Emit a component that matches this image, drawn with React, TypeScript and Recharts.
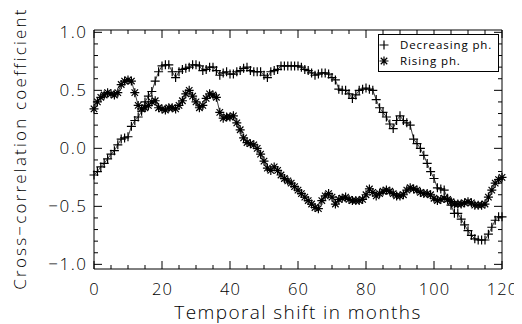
import { Legend, Line, LineChart, XAxis, YAxis } from "recharts";

// months 0..120
const months: number[] = Array.from({ length: 121 }, (_, i) => i);

const decreasingPh: number[] = [
  -0.23, -0.2, -0.16, -0.13, -0.09, -0.05, -0.02, 0.03, 0.08, 0.09,
  0.1, 0.19, 0.24, 0.27, 0.32, 0.4, 0.45, 0.49, 0.58, 0.66,
  0.71, 0.72, 0.72, 0.66, 0.61, 0.66, 0.68, 0.69, 0.7, 0.72,
  0.72, 0.71, 0.67, 0.68, 0.7, 0.7, 0.67, 0.63, 0.65, 0.66,
  0.64, 0.64, 0.66, 0.67, 0.69, 0.7, 0.67, 0.66, 0.66, 0.66,
  0.63, 0.61, 0.66, 0.67, 0.68, 0.71, 0.71, 0.71, 0.71, 0.71,
  0.71, 0.7, 0.68, 0.67, 0.65, 0.63, 0.64, 0.65, 0.65, 0.64,
  0.61, 0.59, 0.51, 0.5, 0.5, 0.47, 0.43, 0.46, 0.5, 0.51,
  0.52, 0.51, 0.5, 0.42, 0.35, 0.31, 0.27, 0.21, 0.17, 0.24,
  0.28, 0.24, 0.22, 0.2, 0.08, 0.04, 0.0, -0.06, -0.13, -0.2,
  -0.26, -0.34, -0.35, -0.36, -0.43, -0.49, -0.56, -0.56, -0.61, -0.66,
  -0.71, -0.75, -0.78, -0.79, -0.79, -0.79, -0.74, -0.68, -0.62, -0.59,
  -0.59,
];

const risingPh: number[] = [
  0.34, 0.4, 0.44, 0.46, 0.48, 0.47, 0.46, 0.48, 0.55, 0.58,
  0.59, 0.58, 0.48, 0.37, 0.34, 0.35, 0.37, 0.4, 0.41, 0.35,
  0.34, 0.33, 0.35, 0.35, 0.34, 0.37, 0.41, 0.47, 0.5, 0.45,
  0.4, 0.35, 0.37, 0.43, 0.47, 0.46, 0.44, 0.31, 0.26, 0.27,
  0.27, 0.28, 0.22, 0.16, 0.09, 0.05, 0.04, 0.03, 0.0, -0.05,
  -0.11, -0.17, -0.19, -0.16, -0.19, -0.23, -0.26, -0.28, -0.3, -0.33,
  -0.36, -0.39, -0.42, -0.45, -0.48, -0.51, -0.52, -0.45, -0.41, -0.39,
  -0.42, -0.48, -0.44, -0.43, -0.42, -0.44, -0.45, -0.45, -0.45, -0.44,
  -0.4, -0.35, -0.38, -0.41, -0.39, -0.37, -0.36, -0.37, -0.39, -0.41,
  -0.41, -0.4, -0.36, -0.34, -0.35, -0.36, -0.38, -0.39, -0.39, -0.4,
  -0.43, -0.45, -0.44, -0.43, -0.44, -0.46, -0.48, -0.48, -0.48, -0.47,
  -0.46, -0.47, -0.49, -0.49, -0.49, -0.48, -0.42, -0.36, -0.3, -0.27,
  -0.25,
];

const xTicks: number[] = [
  0, 5, 10, 15, 20, 25, 30, 35, 40, 45, 50, 55, 60,
  65, 70, 75, 80, 85, 90, 95, 100, 105, 110, 115, 120,
];
const yTicks: number[] = [
  -1.0, -0.9, -0.8, -0.7, -0.6, -0.5, -0.4, -0.3, -0.2, -0.1, 0.0,
  0.1, 0.2, 0.3, 0.4, 0.5, 0.6, 0.7, 0.8, 0.9, 1.0,
];

const data = months.map((m, i) => ({ month: m, dec: decreasingPh[i], ris: risingPh[i] }));

const FONT = "'Open Sans', sans-serif";

const isMajorX = (v: number) => v % 20 === 0;
const isMajorY = (v: number) => Math.round(v * 10) % 5 === 0;
const fmtY = (v: number) => (v < 0 ? "\u2212" + Math.abs(v).toFixed(1) : v.toFixed(1));

const BottomTick = ({ x, y, payload }: any) => {
  const v = payload.value;
  const major = isMajorX(v);
  return (
    <g>
      <line x1={x} x2={x} y1={y} y2={y - (major ? 8 : 4)} stroke="#000" />
      {major && (
        <text x={x + 0.5} y={y + 26} textAnchor="middle" fontSize={16.5} letterSpacing={1} fontFamily={FONT} fontWeight={300} fill="#000">
          {v}
        </text>
      )}
    </g>
  );
};

const TopTick = ({ x, y, payload }: any) => {
  const major = isMajorX(payload.value);
  return <line x1={x} x2={x} y1={y} y2={y + (major ? 8 : 4)} stroke="#000" />;
};

const LeftTick = ({ x, y, payload }: any) => {
  const v = payload.value;
  const major = isMajorY(v);
  return (
    <g>
      <line x1={x} x2={x + (major ? 8 : 4)} y1={y} y2={y} stroke="#000" />
      {major && (
        <text x={x - 6.5} y={y} dy="0.36em" textAnchor="end" fontSize={17} letterSpacing={1.5} fontFamily={FONT} fontWeight={300} fill="#000">
          {fmtY(v)}
        </text>
      )}
    </g>
  );
};

const RightTick = ({ x, y, payload }: any) => {
  const major = isMajorY(payload.value);
  return <line x1={x} x2={x - (major ? 8 : 4)} y1={y} y2={y} stroke="#000" />;
};

const PlusDot = (p: any) => {
  const { cx, cy, index } = p;
  if (cx == null || cy == null) return <g key={"p" + index} />;
  const s = 4.5;
  return (
    <path
      key={"p" + index}
      d={`M${cx - s},${cy}H${cx + s}M${cx},${cy - s}V${cy + s}`}
      stroke="#000"
      strokeWidth={1.2}
      fill="none"
    />
  );
};

const StarDot = (p: any) => {
  const { cx, cy, index } = p;
  if (cx == null || cy == null) return <g key={"s" + index} />;
  const s = 4.5;
  const d = s * 0.72;
  return (
    <path
      key={"s" + index}
      d={`M${cx - s},${cy}H${cx + s}M${cx},${cy - s}V${cy + s}M${cx - d},${cy - d}L${cx + d},${cy + d}M${cx - d},${cy + d}L${cx + d},${cy - d}`}
      stroke="#000"
      strokeWidth={1.2}
      fill="none"
    />
  );
};

const legendItems = [
  { label: "Decreasing ph.", Dot: PlusDot },
  { label: "Rising ph.", Dot: StarDot },
];

const LegendBox = () => (
  <div
    style={{
      border: "1px solid #000",
      background: "#fff",
      width: 121,
      height: 38,
      boxSizing: "border-box",
      fontFamily: FONT,
      fontSize: 11.5,
      letterSpacing: 0.9,
      lineHeight: "16px",
      padding: "2px 0 0 0",
      color: "#000",
    }}
  >
    {legendItems.map(({ label, Dot }) => (
      <div key={label} style={{ display: "flex", alignItems: "center", height: 16 }}>
        <svg width={21} height={16}>
          <Dot cx={5} cy={8} index={0} />
        </svg>
        <span>{label}</span>
      </div>
    ))}
  </div>
);

export default function App() {
  return (
    <LineChart width={514} height={316} data={data} margin={{ top: 21, right: 19, bottom: 0, left: 0 }}>
      <XAxis
        dataKey="month"
        type="number"
        domain={[0, 120]}
        ticks={xTicks}
        interval={0}
        tickSize={0}
        tickMargin={0}
        tickLine={false}
        tick={<BottomTick />}
        height={55}
        axisLine={{ stroke: "#000" }}
        label={{
          content: ({ viewBox }: any) => (
            <text
              x={viewBox.x + viewBox.width / 2}
              y={viewBox.y + 50}
              textAnchor="middle"
              fontSize={19}
              letterSpacing={1.4}
              fontFamily={FONT}
              fontWeight={300}
              fill="#000"
            >
              Temporal shift in months
            </text>
          ),
        }}
      />
      <XAxis
        xAxisId="top"
        orientation="top"
        type="number"
        dataKey="month"
        domain={[0, 120]}
        ticks={xTicks}
        interval={0}
        tickSize={0}
        tickMargin={0}
        tickLine={false}
        tick={<TopTick />}
        height={1}
        axisLine={{ stroke: "#000" }}
      />
      <YAxis
        type="number"
        domain={[-1.04, 1.02]}
        ticks={yTicks}
        interval={0}
        tickSize={0}
        tickMargin={0}
        tickLine={false}
        tick={<LeftTick />}
        width={86}
        allowDataOverflow
        axisLine={{ stroke: "#000" }}
        label={{
          content: ({ viewBox }: any) => {
            const cx = viewBox.x + 18;
            const cy = viewBox.y + viewBox.height / 2 - 1;
            return (
              <text
                x={cx}
                y={cy}
                transform={`rotate(-90 ${cx} ${cy})`}
                textAnchor="middle"
                fontSize={17}
                letterSpacing={2.2}
                fontFamily={FONT}
                fontWeight={300}
                fill="#000"
              >
                Cross{"\u2212"}correlation coefficient
              </text>
            );
          },
        }}
      />
      <YAxis
        yAxisId="right"
        orientation="right"
        type="number"
        domain={[-1.04, 1.02]}
        ticks={yTicks}
        interval={0}
        tickSize={0}
        tickMargin={0}
        tickLine={false}
        tick={<RightTick />}
        width={1}
        allowDataOverflow
        axisLine={{ stroke: "#000" }}
      />
      <Legend
        layout="vertical"
        align="center"
        verticalAlign="middle"
        content={<LegendBox />}
        wrapperStyle={{ top: 26, left: 370, width: 122 }}
      />
      <Line
        dataKey="dec"
        name="Decreasing ph."
        stroke="#444"
        strokeWidth={1}
        dot={PlusDot}
        activeDot={false}
        isAnimationActive={false}
      />
      <Line
        dataKey="ris"
        name="Rising ph."
        stroke="#444"
        strokeWidth={1}
        dot={StarDot}
        activeDot={false}
        isAnimationActive={false}
      />
    </LineChart>
  );
}
